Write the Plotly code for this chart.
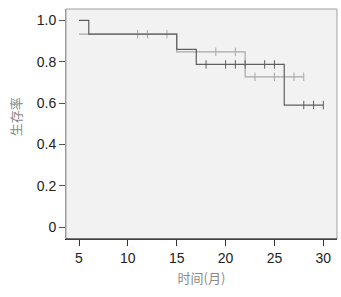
import plotly.graph_objects as go

# Group 1 (dark curve)
g1_times = [5, 6, 15, 17, 26, 30]
g1_surv = [1.0, 0.933, 0.86, 0.787, 0.59, 0.59]
g1_censor = [18, 20, 21, 22, 24, 25, 28, 29, 30]

# Group 2 (light curve)
g2_times = [5, 15, 22, 28]
g2_surv = [0.933, 0.848, 0.727, 0.727]
g2_censor = [11, 12, 14, 19, 21, 23, 25, 27, 28]

x_ticks = [5, 10, 15, 20, 25, 30]
y_ticks = [0, 0.2, 0.4, 0.6, 0.8, 1.0]
y_ticklabels = ["0", "0.2", "0.4", "0.6", "0.8", "1.0"]


def step_value(times, surv, t):
    v = surv[0]
    for tt, s in zip(times, surv):
        if t >= tt:
            v = s
    return v


fig = go.Figure()

for times, surv, cens, color in [
    (g2_times, g2_surv, g2_censor, "#a8a8a8"),
    (g1_times, g1_surv, g1_censor, "#5e5e5e"),
]:
    fig.add_trace(go.Scatter(x=times, y=surv, mode="lines", line_shape="hv",
                             line=dict(color=color, width=1.2), showlegend=False,
                             hoverinfo="skip"))
    fig.add_trace(go.Scatter(x=cens, y=[step_value(times, surv, c) for c in cens],
                             mode="markers",
                             marker=dict(symbol="line-ns-open", size=6, color=color,
                                         line=dict(color=color, width=1)),
                             showlegend=False, hoverinfo="skip"))

tickfont = dict(family="Liberation Sans, Arial, sans-serif", size=14, color="#222222")
titlefont = dict(family="Noto Sans CJK SC, sans-serif", size=13, color="#8a8a8a")

fig.update_layout(
    width=341, height=297,
    margin=dict(l=66, r=4, t=9, b=58),
    paper_bgcolor="white",
    plot_bgcolor="#f2f2f2",
    xaxis=dict(range=[3.67, 31.4], tickvals=x_ticks, ticks="outside", ticklen=6,
               tickcolor="#333333", showgrid=False, zeroline=False, showline=True,
               linecolor="#222222", linewidth=1.2, tickfont=tickfont, automargin=False,
               title=dict(text="时间(月)", font=titlefont, standoff=8)),
    yaxis=dict(range=[-0.058, 1.055], tickvals=y_ticks, ticktext=y_ticklabels,
               ticks="outside", ticklen=6, tickcolor="#555555", showgrid=False,
               zeroline=False, showline=True, linecolor="#999999", linewidth=1,
               tickfont=tickfont, automargin=False),
    shapes=[dict(type="rect", xref="paper", yref="paper", x0=0, y0=0, x1=1, y1=1,
                 line=dict(color="#a0a0a0", width=1), fillcolor="rgba(0,0,0,0)",
                 layer="above")],
    annotations=[dict(text="生存率", font=titlefont, textangle=-90, showarrow=False,
                      xref="paper", yref="paper", x=-0.188, y=0.53,
                      xanchor="center", yanchor="middle")],
)
fig.add_shape(type="line", xref="paper", yref="paper", x0=0, x1=1, y0=0, y1=0,
              line=dict(color="#222222", width=1.2), layer="above")

fig.write_html("out.html", config={"displayModeBar": False},
               post_script="document.body.style.margin='0';document.body.style.overflow='hidden';")
